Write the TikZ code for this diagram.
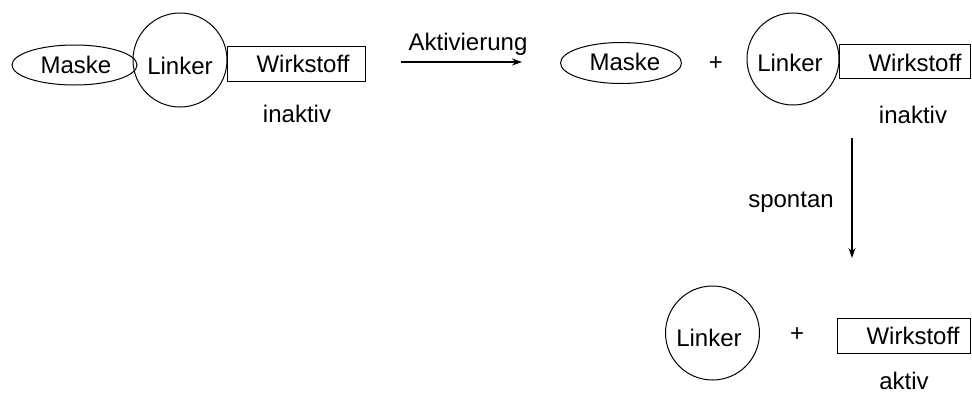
\documentclass[tikz,border=0pt]{standalone}
\usepackage{fontspec}
\setmainfont{Liberation Sans}
\usetikzlibrary{shapes.geometric,arrows.meta}
\begin{document}
\begin{tikzpicture}[x=1pt,y=-1pt,
  every node/.style={font=\fontsize{24}{28}\selectfont},
  circ/.style={draw,circle,line width=1pt,minimum size=94pt,inner sep=0pt},
  ell/.style={draw,ellipse,line width=1pt,inner sep=0pt},
  box/.style={draw,rectangle,line width=1pt,inner sep=0pt},
  txt/.style={inner sep=0pt},
  arr/.style={line width=1.5pt,-{Stealth[length=10pt,width=7pt]}}]
\useasboundingbox (0,0) rectangle (972,394);
% left group
\node[ell,minimum width=125pt,minimum height=40pt] (m1) at (74.5,65) {};
\node[txt] (m1t) at (76,65) {Maske};
\node[circ] (l1) at (180,60) {};
\node[txt] (l1t) at (180,66) {Linker};
\node[box,minimum width=138pt,minimum height=35pt] (w1) at (296,63.5) {};
\node[txt] (w1t) at (303,64) {Wirkstoff};
\node[txt] (i1) at (297,114) {inaktiv};
% activation arrow
\coordinate (a1) at (401,62);
\coordinate (a2) at (522,62);
\draw[arr] (a1) -- (a2);
\node[txt,anchor=base] (akt) at (468,50) {Aktivierung};
% middle group
\node[ell,minimum width=121pt,minimum height=41pt] (m2) at (621,63) {};
\node[txt] (m2t) at (625,62) {Maske};
\node[txt] (p1) at (716,64) {+};
\node[circ,minimum size=92pt] (l2) at (793,59) {};
\node[txt] (l2t) at (790,63) {Linker};
\node[box,minimum width=131pt,minimum height=34pt] (w2) at (904.5,61) {};
\node[txt] (w2t) at (915,63) {Wirkstoff};
\node[txt] (i2) at (913,115) {inaktiv};
% spontaneous arrow
\coordinate (s1) at (852,138);
\coordinate (s2) at (852,258);
\draw[arr] (s1) -- (s2);
\node[txt,anchor=base] (sp) at (791,207) {spontan};
% bottom group
\node[circ] (l3) at (712.5,333) {};
\node[txt] (l3t) at (709,338) {Linker};
\node[txt] (p2) at (797,335) {+};
\node[box,minimum width=133pt,minimum height=35pt] (w3) at (903.5,335.5) {};
\node[txt] (w3t) at (913,336) {Wirkstoff};
\node[txt] (ak) at (904,381) {aktiv};
\end{tikzpicture}
\end{document}
